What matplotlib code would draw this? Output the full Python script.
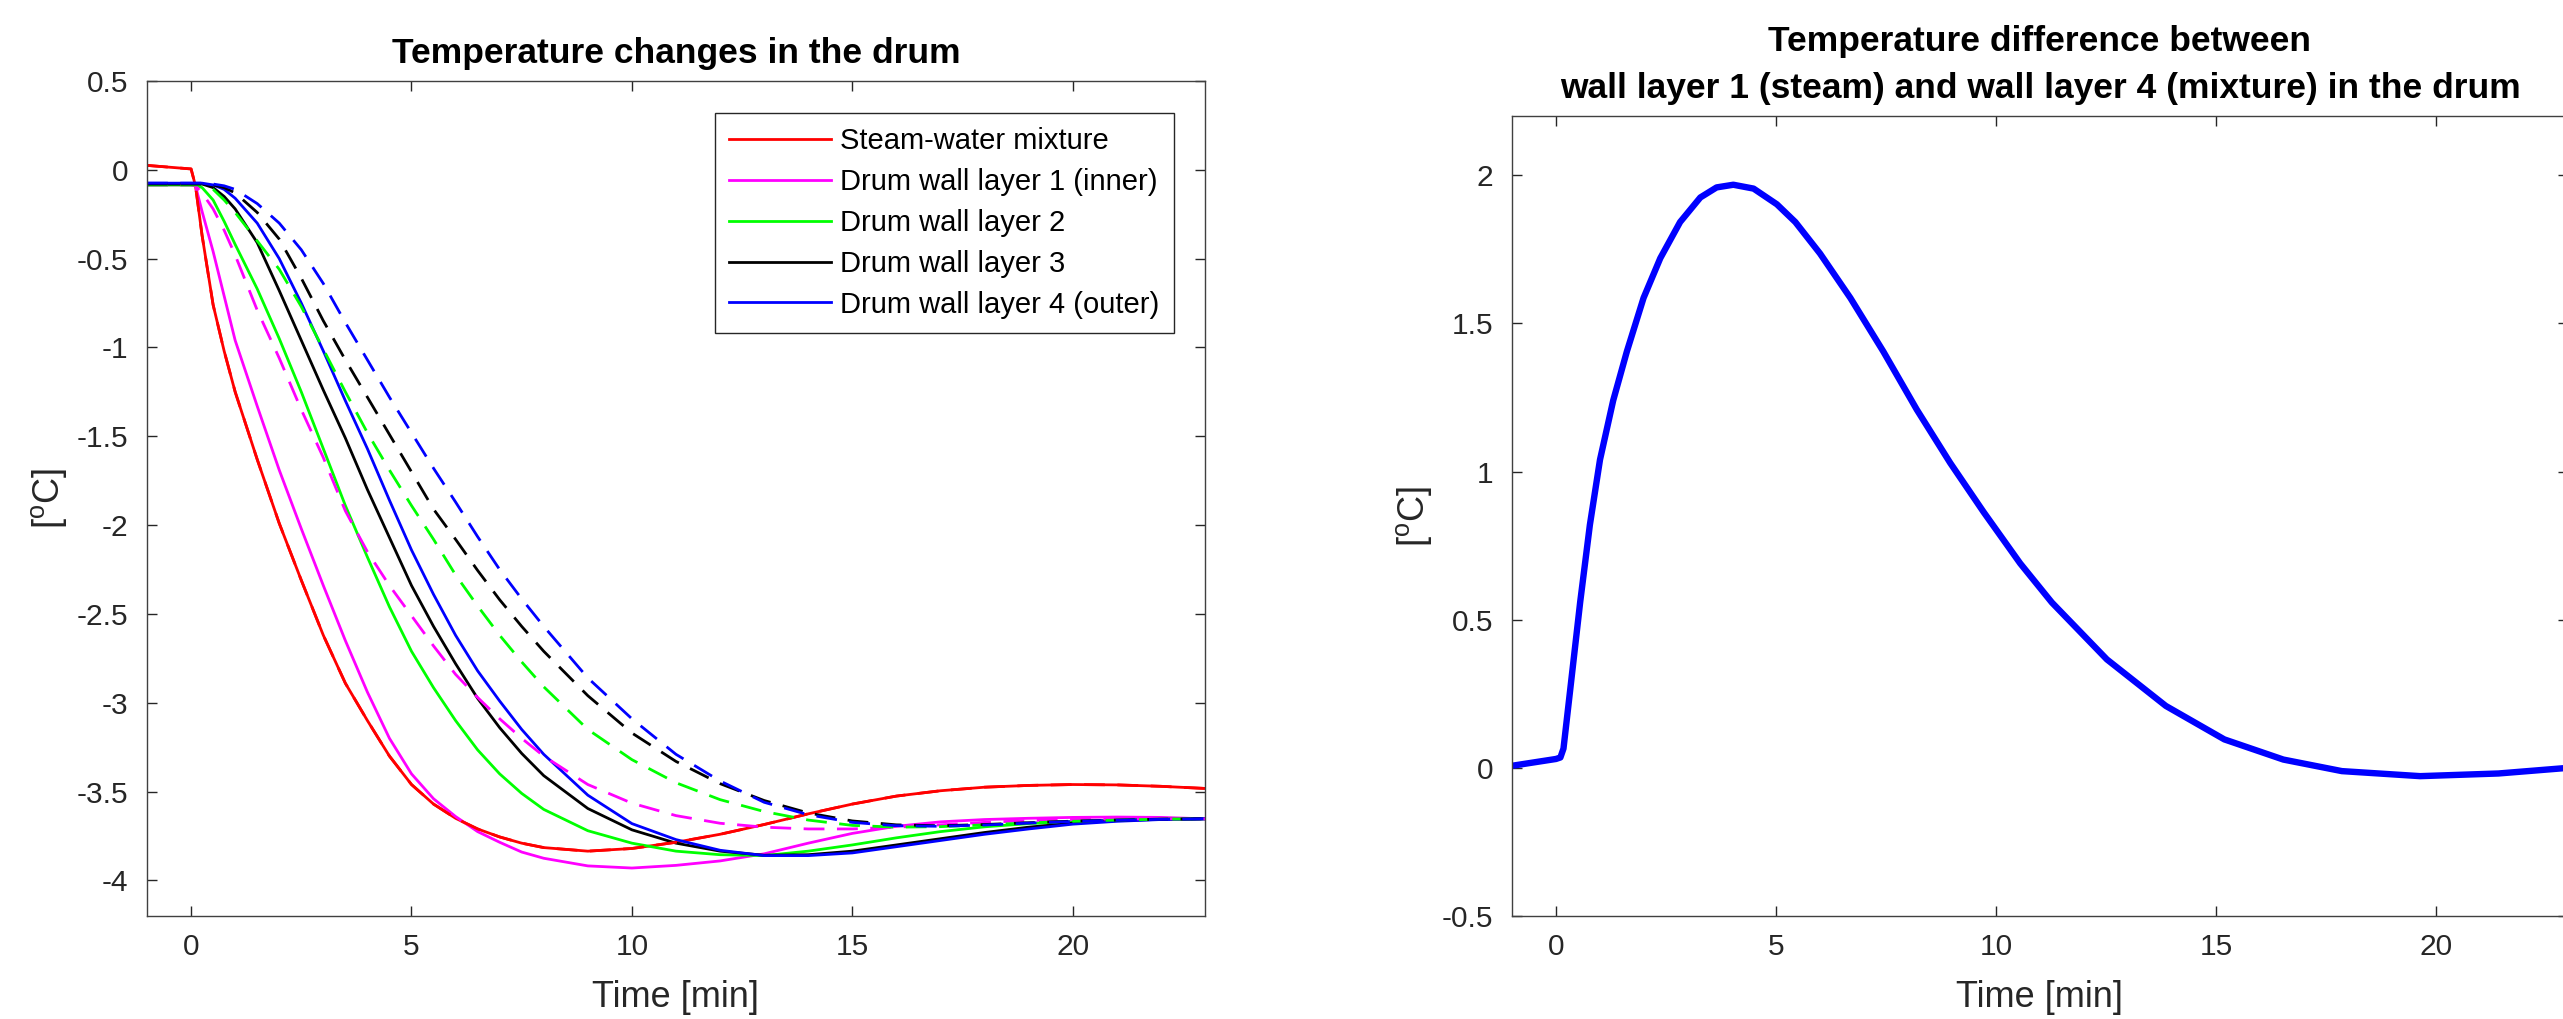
import numpy as np
import matplotlib.pyplot as plt

plt.rcParams['font.family'] = ['Liberation Sans', 'DejaVu Sans']
plt.rcParams['axes.unicode_minus'] = False

# ---------------- datos ---------------- #
t = [-1, 0, 0.1, 0.25, 0.5, 0.75, 1, 1.5, 2, 2.5, 3, 3.5, 4, 4.5, 5, 5.5, 6, 6.5,
     7, 7.5, 8, 9, 10, 11, 12, 13, 14, 15, 16, 17, 18, 19, 20, 21, 22, 23]

# mezcla vapor-agua
mix = [0.025, 0.005, -0.09, -0.37, -0.76, -1.02, -1.25, -1.63, -1.99, -2.31, -2.62, -2.89,
       -3.10, -3.30, -3.46, -3.57, -3.65, -3.71, -3.755, -3.79, -3.815, -3.835, -3.82, -3.785,
       -3.74, -3.685, -3.625, -3.57, -3.525, -3.495, -3.475, -3.465, -3.46, -3.462, -3.47, -3.482]
mix_b = list(mix)

# capas de la pared (linea continua)
wall1 = [-0.085, -0.085, -0.09, -0.235, -0.46, -0.71, -0.96, -1.33, -1.69, -2.02, -2.34, -2.65,
         -2.94, -3.20, -3.40, -3.54, -3.64, -3.725, -3.785, -3.84, -3.875, -3.918, -3.93, -3.915,
         -3.89, -3.85, -3.79, -3.735, -3.695, -3.67, -3.657, -3.65, -3.645, -3.643, -3.645, -3.653]
wall2 = [-0.085, -0.085, -0.085, -0.10, -0.17, -0.29, -0.42, -0.67, -0.95, -1.25, -1.57, -1.89,
         -2.18, -2.46, -2.71, -2.915, -3.10, -3.265, -3.40, -3.51, -3.60, -3.72, -3.79, -3.835,
         -3.855, -3.86, -3.835, -3.80, -3.76, -3.725, -3.698, -3.68, -3.668, -3.66, -3.655, -3.653]
wall3 = [-0.08, -0.08, -0.08, -0.08, -0.10, -0.15, -0.22, -0.41, -0.68, -0.96, -1.24, -1.51,
         -1.80, -2.07, -2.34, -2.57, -2.78, -2.975, -3.14, -3.285, -3.41, -3.595, -3.715, -3.79,
         -3.835, -3.858, -3.855, -3.835, -3.80, -3.765, -3.73, -3.70, -3.677, -3.663, -3.656, -3.653]
wall4 = [-0.075, -0.075, -0.075, -0.075, -0.085, -0.11, -0.16, -0.30, -0.50, -0.75, -1.02, -1.30,
         -1.57, -1.86, -2.14, -2.39, -2.62, -2.82, -2.99, -3.15, -3.29, -3.52, -3.68, -3.77,
         -3.83, -3.86, -3.86, -3.845, -3.81, -3.775, -3.74, -3.71, -3.683, -3.667, -3.657, -3.653]

# capas de la pared (linea discontinua)
wall1_b = [-0.085, -0.085, -0.09, -0.13, -0.22, -0.34, -0.48, -0.79, -1.06, -1.35, -1.62, -1.92,
           -2.15, -2.34, -2.51, -2.68, -2.84, -2.97, -3.09, -3.20, -3.30, -3.46, -3.565, -3.635,
           -3.678, -3.70, -3.71, -3.71, -3.70, -3.687, -3.673, -3.663, -3.657, -3.654, -3.653, -3.653]
wall2_b = [-0.085, -0.085, -0.085, -0.085, -0.11, -0.17, -0.24, -0.40, -0.56, -0.77, -1.01, -1.25,
           -1.48, -1.69, -1.89, -2.08, -2.28, -2.455, -2.62, -2.77, -2.91, -3.15, -3.32, -3.45,
           -3.545, -3.612, -3.66, -3.69, -3.70, -3.697, -3.687, -3.676, -3.667, -3.66, -3.655, -3.653]
wall3_b = [-0.08, -0.08, -0.08, -0.08, -0.085, -0.10, -0.13, -0.24, -0.39, -0.61, -0.85, -1.07,
           -1.28, -1.49, -1.70, -1.91, -2.08, -2.255, -2.42, -2.57, -2.71, -2.96, -3.17, -3.33,
           -3.455, -3.55, -3.62, -3.665, -3.687, -3.692, -3.685, -3.675, -3.666, -3.66, -3.655, -3.653]
wall4_b = [-0.075, -0.075, -0.075, -0.075, -0.08, -0.09, -0.11, -0.19, -0.30, -0.45, -0.64, -0.86,
           -1.07, -1.28, -1.48, -1.68, -1.87, -2.065, -2.25, -2.415, -2.57, -2.86, -3.09, -3.29,
           -3.44, -3.56, -3.63, -3.673, -3.692, -3.695, -3.688, -3.677, -3.668, -3.661, -3.656, -3.653]

# diferencia capa 1 - capa 4
t_diff = [-1, 0, 0.1, 0.17, 0.32, 0.55, 0.77, 1.0, 1.3, 1.61, 1.99, 2.37, 2.82, 3.28, 3.65,
          4.03, 4.49, 5.02, 5.44, 6.0, 6.69, 7.44, 8.2, 8.96, 9.72, 10.55, 11.27, 12.52,
          13.86, 15.19, 16.53, 17.86, 19.64, 21.42, 23]
diff = [0.007, 0.03, 0.035, 0.065, 0.26, 0.56, 0.82, 1.04, 1.24, 1.405, 1.586, 1.72, 1.842,
        1.925, 1.959, 1.968, 1.955, 1.902, 1.842, 1.736, 1.586, 1.405, 1.209, 1.029, 0.863,
        0.69, 0.558, 0.366, 0.209, 0.096, 0.028, -0.011, -0.028, -0.019, 0.0]

labels = ['Steam-water mixture', 'Drum wall layer 1 (inner)', 'Drum wall layer 2',
          'Drum wall layer 3', 'Drum wall layer 4 (outer)']
colors = ['#ff0000', '#ff00ff', '#00ff00', '#000000', '#0000ff']

# ---------------- figura ---------------- #
W, H = 2563, 1019
fig = plt.figure(figsize=(W / 100, H / 100), dpi=100)
ax1 = fig.add_axes([147 / W, 1 - 916 / H, 1058 / W, 835 / H])
ax2 = fig.add_axes([1512 / W, 1 - 916 / H, 1056 / W, 800 / H])

lw = 2.0
dash = (0, (7.5, 4.5))
handles = []
for y, c, lab in zip([mix, wall1, wall2, wall3, wall4], colors, labels):
    h, = ax1.plot(t, y, color=c, lw=lw, label=lab)
    handles.append(h)
for y, c in zip([mix_b, wall1_b, wall2_b, wall3_b, wall4_b], colors):
    ax1.plot(t, y, color=c, lw=lw, linestyle=dash)

ax2.plot(t_diff, diff, color='#0000ff', lw=4.6, solid_joinstyle='round')


def style(ax, ylim, yticks):
    ax.set_xlim(-1, 23)
    ax.set_ylim(*ylim)
    ax.set_xticks([0, 5, 10, 15, 20])
    ax.set_yticks(yticks)
    ax.set_yticklabels(['%g' % v for v in yticks])
    ax.tick_params(direction='in', length=7, width=1.0, color='#262626',
                   labelsize=21.5, labelcolor='#262626', top=True, right=True)
    ax.tick_params(axis='x', pad=12)
    ax.tick_params(axis='y', pad=13.5)
    for s in ax.spines.values():
        s.set_color('#404040')
        s.set_linewidth(1.0)
    ax.set_xlabel('Time [min]', fontsize=26, color='#262626')
    ax.set_ylabel(r'[$^{\mathregular{o}}$C]', fontsize=26, color='#262626')
    ax.yaxis.set_label_coords(-0.0737, 0.5)


style(ax1, (-4.2, 0.5), [-4, -3.5, -3, -2.5, -2, -1.5, -1, -0.5, 0, 0.5])
style(ax2, (-0.5, 2.2), [-0.5, 0, 0.5, 1, 1.5, 2])
ax1.xaxis.set_label_coords(0.5, -0.0766)
ax2.xaxis.set_label_coords(0.5, -0.08)

ax1.set_title('Temperature changes in the drum', fontsize=25.5, fontweight='bold', pad=13)
ax2.set_title('Temperature difference between\nwall layer 1 (steam) and wall layer 4 (mixture) in the drum',
              fontsize=25.5, fontweight='bold', pad=13, linespacing=1.55)

leg = ax1.legend(handles=handles, loc='upper right', bbox_to_anchor=(0.9707, 0.962),
                 borderaxespad=0, fontsize=21, handlelength=3.5, handletextpad=0.3,
                 borderpad=0.5, labelspacing=0.44, fancybox=False, framealpha=1)
leg.get_frame().set_edgecolor('#262626')
leg.get_frame().set_linewidth(1.0)

fig.savefig('out.png', dpi=100)
